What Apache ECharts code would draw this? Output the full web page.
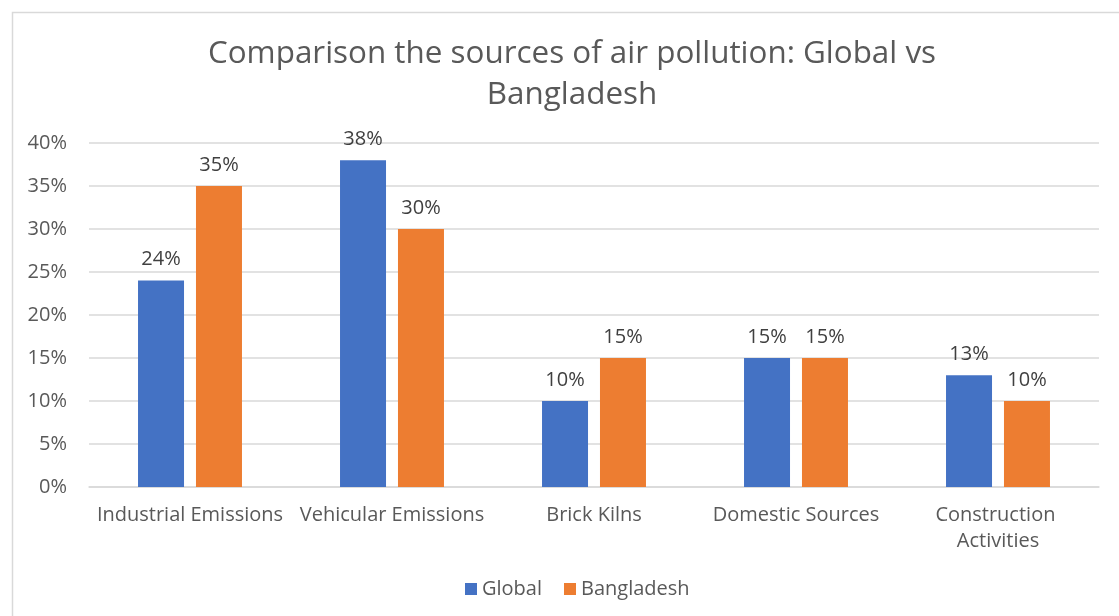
<!DOCTYPE html>
<html>
<head>
<meta charset="utf-8">
<script src="https://cdn.jsdelivr.net/npm/echarts@6/dist/echarts.min.js"></script>
<style>
html,body{margin:0;padding:0;background:#fff;}
#c{width:1119px;height:616px;}
</style>
</head>
<body>
<div id="c"></div>
<script>
const categories = ['Industrial Emissions', 'Vehicular Emissions', 'Brick Kilns', 'Domestic Sources', 'Construction Activities'];
const globalValues = [24, 38, 10, 15, 13];
const bangladeshValues = [35, 30, 15, 15, 10];
const seriesNames = ['Global', 'Bangladesh'];
const titleText = 'Comparison the sources of air pollution: Global vs\nBangladesh';

const FONT = '"Open Sans", "Noto Sans", sans-serif';
const chart = echarts.init(document.getElementById('c'));
chart.setOption({
  backgroundColor: '#ffffff',
  animation: false,
  textStyle: { fontFamily: FONT },
  graphic: [{
    type: 'rect', left: 10, top: 10, z: -1,
    shape: { width: 1130, height: 630 },
    style: { fill: 'none', stroke: '#d9d9d9', lineWidth: 1.5 }
  }],
  title: {
    text: titleText,
    left: 567, top: 29, textAlign: 'center',
    textStyle: { fontFamily: FONT, fontSize: 31.4, fontWeight: 'normal', color: '#595959', lineHeight: 41 }
  },
  legend: {
    bottom: 12, left: 460,
    itemWidth: 12, itemHeight: 12, itemGap: 22, icon: 'rect',
    textStyle: { fontFamily: FONT, fontSize: 20, color: '#595959' },
    data: seriesNames
  },
  grid: { left: 89, right: 20, top: 143, bottom: 129 },
  xAxis: {
    type: 'category', data: categories,
    axisLine: { lineStyle: { color: '#d9d9d9', width: 1.5 } },
    axisTick: { show: false },
    axisLabel: { fontFamily: FONT, fontSize: 20, color: '#595959', margin: 15, width: 196, overflow: 'break', lineHeight: 26, interval: 0 }
  },
  yAxis: {
    type: 'value', min: 0, max: 40, interval: 5,
    axisLine: { show: false }, axisTick: { show: false },
    splitLine: { lineStyle: { color: '#d9d9d9', width: 1.5 } },
    axisLabel: { fontFamily: FONT, fontSize: 20, color: '#595959', margin: 22, formatter: v => v + '%' }
  },
  series: [
    {
      name: seriesNames[0], type: 'bar', data: globalValues,
      barWidth: 46, barGap: '26%',
      itemStyle: { color: '#4472c4' },
      label: { show: true, position: 'top', distance: 11, fontFamily: FONT, fontSize: 20, color: '#404040', formatter: p => p.value + '%' }
    },
    {
      name: seriesNames[1], type: 'bar', data: bangladeshValues,
      barWidth: 46,
      itemStyle: { color: '#ed7d31' },
      label: { show: true, position: 'top', distance: 11, fontFamily: FONT, fontSize: 20, color: '#404040', formatter: p => p.value + '%' }
    }
  ]
});
</script>
</body>
</html>
